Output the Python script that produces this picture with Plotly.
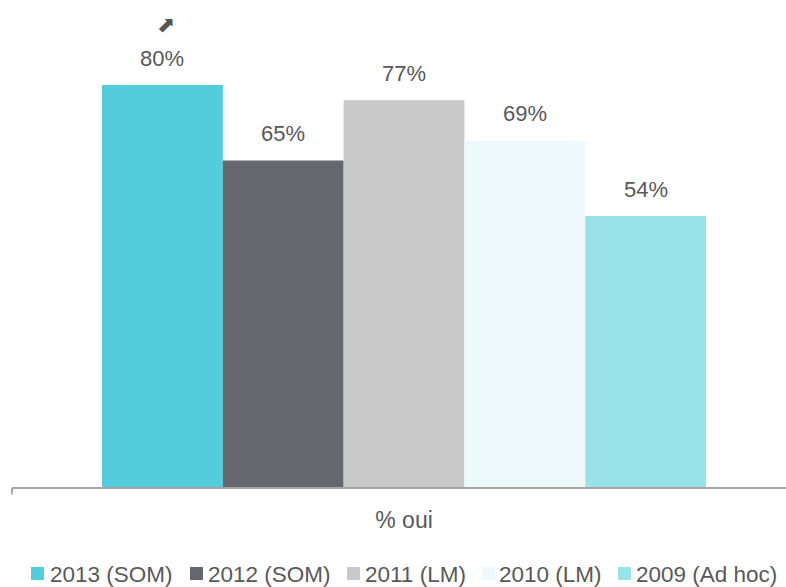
import plotly.graph_objects as go

series = ["2013 (SOM)", "2012 (SOM)", "2011 (LM)", "2010 (LM)", "2009 (Ad hoc)"]
values = [80, 65, 77, 69, 54]
colors = ["#53CDDC", "#66666E", "#C9C9C9", "#EEF9FB", "#99E2E9"]
category = "% oui"

TEXT = "#595959"
FONT = "Liberation Sans, Arial, sans-serif"

# layout constants (pixels)
PLOT_LEFT = 12
PLOT_BOTTOM = 488
legend_square_px = [31, 190, 347, 482, 618]
legend_text_px = [48, 206, 363, 497, 634]

fig = go.Figure()
for i, (s, v, c) in enumerate(zip(series, values, colors)):
    fig.add_trace(go.Bar(
        x=[i], y=[v], width=1, name=s, marker_color=c,
        marker_line_width=0, showlegend=False, hoverinfo="skip",
    ))
    fig.add_annotation(x=i, y=v, text=f"{v}%", showarrow=False, yshift=27,
                       font=dict(size=22, color=TEXT, family=FONT))

# trend arrow above first bar
fig.add_annotation(x=0, y=values[0], text="⬈", showarrow=False, yshift=61, xshift=4,
                   font=dict(size=22, color="#555555", family="DejaVu Sans"))

# axis line with small left tick
fig.add_shape(type="line", xref="paper", yref="paper", x0=0, x1=1, y0=0, y1=0,
              line=dict(color="#A6A6A6", width=2))
fig.add_shape(type="line", xref="paper", yref="paper", x0=0, x1=0, y0=0, y1=-0.013,
              line=dict(color="#A6A6A6", width=2))

# legend (square + label), drawn in pixel offsets from the plot's bottom-left corner
for s, c, sq, tx in zip(series, colors, legend_square_px, legend_text_px):
    fig.add_shape(type="rect", xref="paper", yref="paper",
                  xsizemode="pixel", ysizemode="pixel", xanchor=0, yanchor=0,
                  x0=sq - PLOT_LEFT, x1=sq - PLOT_LEFT + 13,
                  y0=-(567 - PLOT_BOTTOM), y1=-(580 - PLOT_BOTTOM),
                  line=dict(width=0), fillcolor=c)
    fig.add_annotation(xref="paper", yref="paper", x=0, y=0,
                       xshift=tx - PLOT_LEFT, yshift=-(574.5 - PLOT_BOTTOM),
                       xanchor="left", yanchor="middle", showarrow=False, text=s,
                       font=dict(size=22.5, color=TEXT, family=FONT))

fig.update_layout(
    width=786, height=587,
    margin=dict(l=PLOT_LEFT, r=0, t=10, b=587 - PLOT_BOTTOM),
    paper_bgcolor="white", plot_bgcolor="white",
    barmode="overlay",
    xaxis=dict(range=[-1.245, 5.162], tickvals=[2], ticktext=[category],
               showgrid=False, zeroline=False, showline=False, ticks="",
               ticklabelstandoff=16, fixedrange=True,
               tickfont=dict(size=23, color=TEXT, family=FONT)),
    yaxis=dict(range=[0, 94.9], visible=False, showgrid=False, zeroline=False,
               fixedrange=True),
    showlegend=False,
)

fig.write_html("out.html", config={"displayModeBar": False},
               post_script="document.body.style.margin='0';document.body.style.overflow='hidden';")
